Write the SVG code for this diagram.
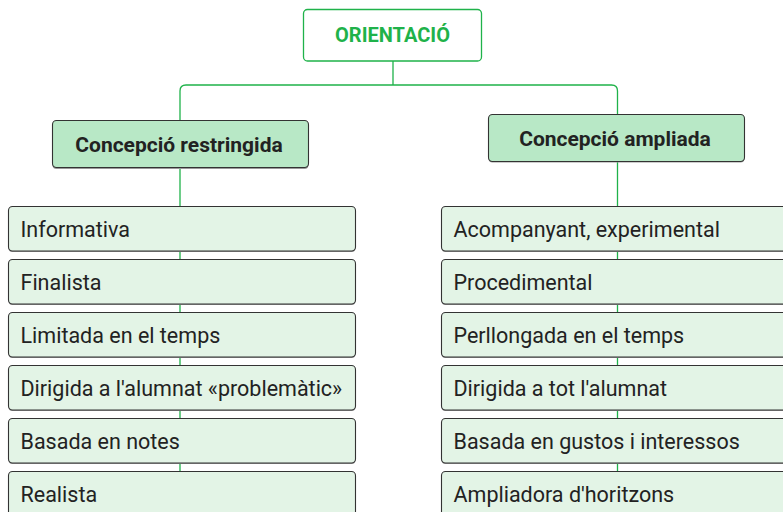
<svg xmlns="http://www.w3.org/2000/svg" width="783" height="512" viewBox="0 0 783 512">
<defs>
<style>
.conn{fill:none;stroke:#1fb24a;stroke-width:1.3}
.root{fill:#fff;stroke:#1fb24a;stroke-width:1.3}
.roott{font-family:Roboto,"Liberation Sans",sans-serif;font-weight:bold;font-size:20px;fill:#1fb24a;text-anchor:middle}
.hdr{fill:#b8e8c6;stroke:#333;stroke-width:1.1}
.hdrt{font-family:Roboto,"Liberation Sans",sans-serif;font-weight:bold;font-size:21px;fill:#222;text-anchor:middle}
.item{fill:#e3f4e6;stroke:#333;stroke-width:1.1}
.shadow{fill:#999}
.itemt{font-family:Roboto,"Liberation Sans",sans-serif;font-size:21.5px;fill:#222}
</style>
</defs>
<g id="connectors">
<path class="conn" d="M393,61 V85 M180,120 V91 Q180,85 186,85 H611.5 Q617.5,85 617.5,91 V115"/>
<path class="conn" d="M180,168 V508"/>
<path class="conn" d="M617.5,162 V508"/>
</g>
<g id="root">
<rect class="root" x="303.5" y="9.5" width="178" height="51.5" rx="4"/>
<text class="roott" x="392.5" y="42">ORIENTACIÓ</text>
</g>
<g id="restringida">
<rect class="shadow" x="52.5" y="121.5" width="256" height="47.5" rx="4"/>
<rect class="hdr" x="52.5" y="120.5" width="256" height="47" rx="4"/>
<text class="hdrt" x="179" y="151.7">Concepció restringida</text>
</g>
<g id="ampliada">
<rect class="shadow" x="488.5" y="115.5" width="256" height="47" rx="4"/>
<rect class="hdr" x="488.5" y="114.5" width="256" height="47" rx="4"/>
<text class="hdrt" x="615" y="146.3">Concepció ampliada</text>
</g>
<g id="l1"><rect class="shadow" x="8.5" y="207.5" width="347" height="44.5" rx="4"/><rect class="item" x="8.5" y="206.5" width="347" height="44.5" rx="4"/><text class="itemt" x="20.5" y="236.7">Informativa</text></g>
<g id="l2"><rect class="shadow" x="8.5" y="260.5" width="347" height="44.5" rx="4"/><rect class="item" x="8.5" y="259.5" width="347" height="44.5" rx="4"/><text class="itemt" x="20.5" y="289.7">Finalista</text></g>
<g id="l3"><rect class="shadow" x="8.5" y="313.5" width="347" height="44.5" rx="4"/><rect class="item" x="8.5" y="312.5" width="347" height="44.5" rx="4"/><text class="itemt" x="20.5" y="342.7">Limitada en el temps</text></g>
<g id="l4"><rect class="shadow" x="8.5" y="366.5" width="347" height="44.5" rx="4"/><rect class="item" x="8.5" y="365.5" width="347" height="44.5" rx="4"/><text class="itemt" x="20.5" y="395.7">Dirigida a l'alumnat «problemàtic»</text></g>
<g id="l5"><rect class="shadow" x="8.5" y="419.5" width="347" height="44.5" rx="4"/><rect class="item" x="8.5" y="418.5" width="347" height="44.5" rx="4"/><text class="itemt" x="20.5" y="448.7">Basada en notes</text></g>
<g id="l6"><rect class="shadow" x="8.5" y="472.5" width="347" height="44.5" rx="4"/><rect class="item" x="8.5" y="471.5" width="347" height="44.5" rx="4"/><text class="itemt" x="20.5" y="501.7">Realista</text></g>
<g id="r1"><rect class="shadow" x="441.5" y="207.5" width="347" height="44.5" rx="4"/><rect class="item" x="441.5" y="206.5" width="347" height="44.5" rx="4"/><text class="itemt" x="453.5" y="236.7">Acompanyant, experimental</text></g>
<g id="r2"><rect class="shadow" x="441.5" y="260.5" width="347" height="44.5" rx="4"/><rect class="item" x="441.5" y="259.5" width="347" height="44.5" rx="4"/><text class="itemt" x="453.5" y="289.7">Procedimental</text></g>
<g id="r3"><rect class="shadow" x="441.5" y="313.5" width="347" height="44.5" rx="4"/><rect class="item" x="441.5" y="312.5" width="347" height="44.5" rx="4"/><text class="itemt" x="453.5" y="342.7">Perllongada en el temps</text></g>
<g id="r4"><rect class="shadow" x="441.5" y="366.5" width="347" height="44.5" rx="4"/><rect class="item" x="441.5" y="365.5" width="347" height="44.5" rx="4"/><text class="itemt" x="453.5" y="395.7">Dirigida a tot l'alumnat</text></g>
<g id="r5"><rect class="shadow" x="441.5" y="419.5" width="347" height="44.5" rx="4"/><rect class="item" x="441.5" y="418.5" width="347" height="44.5" rx="4"/><text class="itemt" x="453.5" y="448.7">Basada en gustos i interessos</text></g>
<g id="r6"><rect class="shadow" x="441.5" y="472.5" width="347" height="44.5" rx="4"/><rect class="item" x="441.5" y="471.5" width="347" height="44.5" rx="4"/><text class="itemt" x="453.5" y="501.7">Ampliadora d'horitzons</text></g>
</svg>
